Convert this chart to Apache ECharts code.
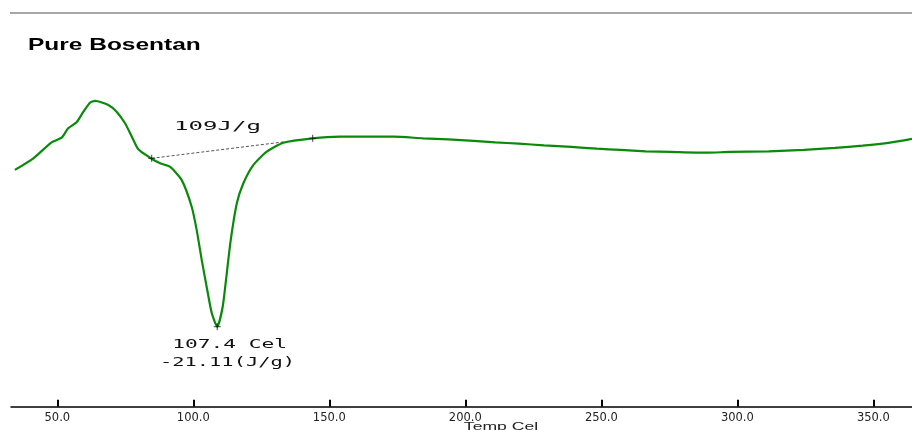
<!DOCTYPE html>
<html>
<head>
<meta charset="utf-8">
<script src="https://cdn.jsdelivr.net/npm/echarts@6/dist/echarts.min.js"></script>
<style>
html,body{margin:0;padding:0;background:#fff;}
#chart{width:912px;height:430px;}
</style>
</head>
<body>
<div id="chart"></div>
<script>
// Temperature (Cel) and heat flow (arbitrary units)
var temps = [34.4, 41.2, 47.9, 51.6, 54.0, 57.1, 59.6, 62.0, 63.9, 68.75, 71.8, 74.9, 77.4, 79.8, 84.1, 87.8, 91.4, 95.7, 99.4, 101.25, 103.1, 104.9, 106.8, 108.8, 110.8, 112.3, 113.75, 116.0, 118.4, 122.1, 127.0, 133.1, 143.9, 153.9, 173.7, 184.4, 193.8, 203.1, 211.0, 219.65, 228.9, 239.0, 248.4, 257.0, 266.3, 275.6, 288.5, 297.2, 311.6, 324.5, 335.9, 346.0, 356.1, 364.2];
var heatFlow = [1.84, 2.42, 3.22, 3.45, 3.92, 4.22, 4.75, 5.20, 5.29, 5.09, 4.75, 4.17, 3.50, 2.87, 2.45, 2.17, 2.00, 1.34, 0.00, -1.17, -2.67, -4.00, -5.33, -6.00, -5.00, -3.33, -1.67, 0.17, 1.17, 2.09, 2.75, 3.20, 3.42, 3.50, 3.50, 3.42, 3.37, 3.29, 3.22, 3.15, 3.07, 2.99, 2.90, 2.84, 2.77, 2.74, 2.70, 2.74, 2.77, 2.84, 2.94, 3.05, 3.20, 3.39];
// Integration baseline (onset / end points)
var baselineTemps = [84.7, 143.9];
var baselineFlow = [2.42, 3.42];
// Peak point
var peakTemp = [108.8];
var peakFlow = [-6.0];
// Axis ticks
var tickValues = [50, 100, 150, 200, 250, 300, 350];
// Texts
var titleText = 'Pure Bosentan';
var enthalpyText = '109J/g';
var peakText1 = '107.4 Cel';
var peakText2 = '-21.11(J/g)';
var axisTitle = 'Temp Cel';

var curve = temps.map(function (t, i) { return [t, heatFlow[i]]; });
var baseline = baselineTemps.map(function (t, i) { return [t, baselineFlow[i]]; });
var marks = baseline.concat(peakTemp.map(function (t, i) { return [t, peakFlow[i]]; }));

var chart = echarts.init(document.getElementById('chart'), null, {renderer: 'canvas'});
chart.setOption({
  animation: false,
  backgroundColor: '#ffffff',
  grid: {left: 11, right: 0, top: 6.7, bottom: 23.3, containLabel: false},
  xAxis: {
    type: 'value',
    min: 32.98,
    max: 364.2,
    axisLine: {show: true, onZero: false, lineStyle: {color: '#000', width: 1.5}},
    axisTick: {show: true, inside: true, length: 7, lineStyle: {color: '#000', width: 2}, customValues: tickValues},
    axisLabel: {
      show: true, customValues: tickValues, margin: 5,
      fontFamily: 'DejaVu Sans', fontSize: 11.5, color: '#222',
      formatter: function (v) { return v.toFixed(1); }
    },
    splitLine: {show: false}
  },
  yAxis: {
    type: 'value', min: -10, max: 10, show: false,
    splitLine: {show: false}
  },
  series: [
    {
      type: 'line', data: curve, smooth: 0.2, showSymbol: false,
      lineStyle: {color: '#0a8a0a', width: 2.2}, z: 3
    },
    {
      type: 'line', data: baseline, showSymbol: false,
      lineStyle: {color: '#555', width: 1, type: [3, 2]}, z: 2
    },
    {
      type: 'scatter', data: marks, symbol: 'path://M0,5L10,5M5,0L5,10', symbolSize: 7,
      itemStyle: {color: 'rgba(0,0,0,0)', borderColor: '#111', borderWidth: 1}, z: 4
    }
  ],
  graphic: [
    {type: 'line', shape: {x1: 10, y1: 13, x2: 912, y2: 13}, style: {stroke: '#888', lineWidth: 1.5}},
    {type: 'text', x: 28, y: 45, scaleX: 1.44, style: {text: titleText, font: 'bold 17px "Liberation Sans"', fill: '#000', textAlign: 'left', textVerticalAlign: 'middle'}},
    {type: 'text', x: 217.5, y: 127, scaleX: 1.85, style: {text: enthalpyText, font: '13px "DejaVu Sans Mono"', fill: '#111', textAlign: 'center', textVerticalAlign: 'middle'}},
    {type: 'text', x: 229.7, y: 345, scaleX: 1.63, style: {text: peakText1, font: '13px "DejaVu Sans Mono"', fill: '#111', textAlign: 'center', textVerticalAlign: 'middle'}},
    {type: 'text', x: 227.5, y: 363, scaleX: 1.57, style: {text: peakText2, font: '13px "DejaVu Sans Mono"', fill: '#111', textAlign: 'center', textVerticalAlign: 'middle'}},
    {type: 'text', x: 501, y: 421, scaleX: 1.6, style: {text: axisTitle, font: '11px "Liberation Sans"', fill: '#222', textAlign: 'center', textVerticalAlign: 'top'}}
  ]
});
</script>
</body>
</html>
